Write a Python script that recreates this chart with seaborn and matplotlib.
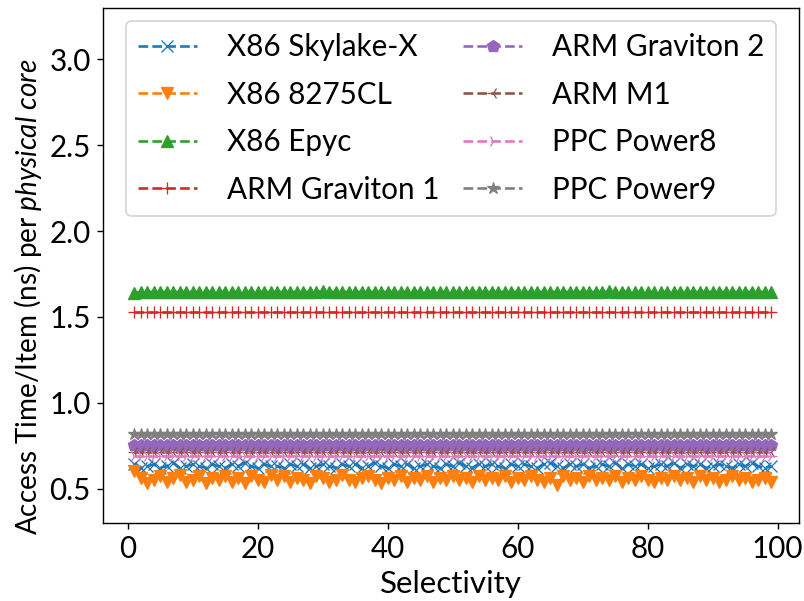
import matplotlib
matplotlib.use("Agg")
import matplotlib.pyplot as plt
import pandas as pd
import seaborn as sns

# === Data ===
selectivity = list(range(1, 100))

skylake_x = [
    0.64, 0.62, 0.63, 0.64, 0.62, 0.63, 0.65, 0.62, 0.63, 0.64, 0.63,
    0.62, 0.64, 0.63, 0.62, 0.64, 0.63, 0.65, 0.63, 0.62, 0.64, 0.63,
    0.63, 0.62, 0.64, 0.63, 0.64, 0.62, 0.63, 0.64, 0.63, 0.62, 0.64,
    0.63, 0.64, 0.62, 0.63, 0.65, 0.63, 0.62, 0.64, 0.63, 0.64, 0.62,
    0.63, 0.64, 0.63, 0.62, 0.64, 0.63, 0.65, 0.63, 0.62, 0.64, 0.63,
    0.64, 0.63, 0.62, 0.64, 0.63, 0.64, 0.63, 0.62, 0.64, 0.65, 0.63,
    0.62, 0.64, 0.63, 0.64, 0.62, 0.63, 0.64, 0.63, 0.65, 0.62, 0.64,
    0.63, 0.64, 0.62, 0.63, 0.64, 0.63, 0.65, 0.62, 0.64, 0.63, 0.64,
    0.62, 0.63, 0.64, 0.63, 0.62, 0.64, 0.63, 0.65, 0.63, 0.62, 0.63,
]
x86_8275cl = [
    0.60, 0.56, 0.53, 0.55, 0.57, 0.54, 0.56, 0.58, 0.54, 0.55, 0.57,
    0.53, 0.56, 0.55, 0.57, 0.54, 0.56, 0.53, 0.57, 0.55, 0.54, 0.58,
    0.55, 0.57, 0.54, 0.56, 0.55, 0.53, 0.57, 0.56, 0.54, 0.55, 0.58,
    0.55, 0.54, 0.56, 0.57, 0.55, 0.53, 0.56, 0.55, 0.57, 0.54, 0.56,
    0.55, 0.57, 0.54, 0.56, 0.55, 0.57, 0.55, 0.56, 0.54, 0.57, 0.55,
    0.56, 0.55, 0.57, 0.54, 0.56, 0.55, 0.57, 0.55, 0.54, 0.56, 0.52,
    0.57, 0.55, 0.56, 0.54, 0.57, 0.55, 0.56, 0.55, 0.57, 0.54, 0.56,
    0.55, 0.57, 0.55, 0.54, 0.56, 0.55, 0.57, 0.55, 0.56, 0.54, 0.57,
    0.55, 0.56, 0.54, 0.55, 0.57, 0.55, 0.56, 0.54, 0.55, 0.56, 0.54,
]
epyc = [
    1.640, 1.645, 1.645, 1.645, 1.645, 1.645, 1.645, 1.645, 1.645, 1.645, 1.645,
    1.645, 1.645, 1.645, 1.645, 1.645, 1.645, 1.645, 1.645, 1.645, 1.645, 1.645,
    1.645, 1.645, 1.645, 1.645, 1.645, 1.645, 1.645, 1.650, 1.645, 1.645, 1.645,
    1.645, 1.645, 1.645, 1.645, 1.645, 1.645, 1.645, 1.645, 1.645, 1.645, 1.645,
    1.645, 1.645, 1.645, 1.645, 1.645, 1.645, 1.645, 1.645, 1.645, 1.645, 1.645,
    1.645, 1.645, 1.645, 1.645, 1.645, 1.645, 1.645, 1.645, 1.645, 1.645, 1.645,
    1.645, 1.645, 1.645, 1.645, 1.645, 1.645, 1.645, 1.650, 1.645, 1.645, 1.645,
    1.645, 1.645, 1.645, 1.645, 1.645, 1.645, 1.645, 1.645, 1.645, 1.645, 1.645,
    1.645, 1.645, 1.645, 1.645, 1.645, 1.645, 1.645, 1.645, 1.645, 1.645, 1.645,
]
graviton1 = [
    1.525, 1.525, 1.525, 1.525, 1.525, 1.525, 1.525, 1.525, 1.525, 1.525, 1.525,
    1.525, 1.525, 1.525, 1.525, 1.525, 1.525, 1.525, 1.525, 1.525, 1.525, 1.525,
    1.525, 1.525, 1.525, 1.525, 1.525, 1.525, 1.525, 1.525, 1.525, 1.525, 1.525,
    1.525, 1.525, 1.525, 1.525, 1.525, 1.525, 1.525, 1.525, 1.525, 1.525, 1.525,
    1.525, 1.525, 1.525, 1.525, 1.525, 1.525, 1.525, 1.525, 1.525, 1.525, 1.525,
    1.525, 1.525, 1.525, 1.525, 1.525, 1.525, 1.525, 1.525, 1.525, 1.525, 1.525,
    1.525, 1.525, 1.525, 1.525, 1.525, 1.525, 1.525, 1.525, 1.525, 1.525, 1.525,
    1.525, 1.525, 1.525, 1.525, 1.525, 1.525, 1.525, 1.525, 1.525, 1.525, 1.525,
    1.525, 1.525, 1.525, 1.525, 1.525, 1.525, 1.525, 1.525, 1.525, 1.525, 1.525,
]
graviton2 = [
    0.755, 0.755, 0.755, 0.755, 0.755, 0.755, 0.755, 0.755, 0.755, 0.755, 0.755,
    0.755, 0.755, 0.755, 0.755, 0.755, 0.755, 0.755, 0.755, 0.755, 0.755, 0.755,
    0.755, 0.755, 0.755, 0.755, 0.755, 0.755, 0.755, 0.755, 0.755, 0.755, 0.755,
    0.755, 0.755, 0.755, 0.755, 0.755, 0.755, 0.755, 0.755, 0.755, 0.755, 0.755,
    0.755, 0.755, 0.755, 0.755, 0.755, 0.755, 0.755, 0.755, 0.755, 0.755, 0.755,
    0.755, 0.755, 0.755, 0.755, 0.755, 0.755, 0.755, 0.755, 0.755, 0.755, 0.755,
    0.755, 0.755, 0.755, 0.755, 0.755, 0.755, 0.755, 0.755, 0.755, 0.755, 0.755,
    0.755, 0.755, 0.755, 0.755, 0.755, 0.755, 0.755, 0.755, 0.755, 0.755, 0.755,
    0.755, 0.755, 0.755, 0.755, 0.755, 0.755, 0.755, 0.755, 0.755, 0.755, 0.755,
]
m1 = [
    0.715, 0.715, 0.715, 0.715, 0.715, 0.715, 0.715, 0.715, 0.715, 0.715, 0.715,
    0.715, 0.715, 0.715, 0.715, 0.715, 0.715, 0.715, 0.715, 0.715, 0.715, 0.715,
    0.715, 0.715, 0.715, 0.715, 0.715, 0.715, 0.715, 0.715, 0.715, 0.715, 0.715,
    0.715, 0.715, 0.715, 0.715, 0.715, 0.715, 0.715, 0.715, 0.715, 0.715, 0.715,
    0.715, 0.715, 0.715, 0.715, 0.715, 0.715, 0.715, 0.715, 0.715, 0.715, 0.715,
    0.715, 0.715, 0.715, 0.715, 0.715, 0.715, 0.715, 0.715, 0.715, 0.715, 0.715,
    0.715, 0.715, 0.715, 0.715, 0.715, 0.715, 0.715, 0.715, 0.715, 0.715, 0.715,
    0.715, 0.715, 0.715, 0.715, 0.715, 0.715, 0.715, 0.715, 0.715, 0.715, 0.715,
    0.715, 0.715, 0.715, 0.715, 0.715, 0.715, 0.715, 0.715, 0.715, 0.715, 0.715,
]
power8 = [
    0.690, 0.690, 0.690, 0.690, 0.690, 0.690, 0.690, 0.690, 0.690, 0.690, 0.690,
    0.690, 0.690, 0.690, 0.690, 0.690, 0.690, 0.690, 0.690, 0.690, 0.690, 0.690,
    0.690, 0.690, 0.690, 0.690, 0.690, 0.690, 0.690, 0.690, 0.690, 0.690, 0.690,
    0.690, 0.690, 0.690, 0.690, 0.690, 0.690, 0.690, 0.690, 0.690, 0.690, 0.690,
    0.690, 0.690, 0.690, 0.690, 0.690, 0.690, 0.690, 0.690, 0.690, 0.690, 0.690,
    0.690, 0.690, 0.690, 0.690, 0.690, 0.690, 0.690, 0.690, 0.690, 0.690, 0.690,
    0.690, 0.690, 0.690, 0.690, 0.690, 0.690, 0.690, 0.690, 0.690, 0.690, 0.690,
    0.690, 0.690, 0.690, 0.690, 0.690, 0.690, 0.690, 0.690, 0.690, 0.690, 0.690,
    0.690, 0.690, 0.690, 0.690, 0.690, 0.690, 0.690, 0.690, 0.690, 0.690, 0.690,
]
power9 = [
    0.815, 0.815, 0.815, 0.815, 0.815, 0.815, 0.815, 0.815, 0.815, 0.815, 0.815,
    0.815, 0.815, 0.815, 0.815, 0.815, 0.815, 0.815, 0.815, 0.815, 0.815, 0.815,
    0.815, 0.815, 0.815, 0.815, 0.815, 0.815, 0.815, 0.815, 0.815, 0.815, 0.815,
    0.815, 0.815, 0.815, 0.815, 0.815, 0.815, 0.815, 0.815, 0.815, 0.815, 0.815,
    0.815, 0.815, 0.815, 0.815, 0.815, 0.815, 0.815, 0.815, 0.815, 0.815, 0.815,
    0.815, 0.815, 0.815, 0.815, 0.815, 0.815, 0.815, 0.815, 0.815, 0.815, 0.815,
    0.815, 0.815, 0.815, 0.815, 0.815, 0.815, 0.815, 0.820, 0.815, 0.815, 0.815,
    0.815, 0.815, 0.815, 0.815, 0.815, 0.815, 0.815, 0.815, 0.815, 0.815, 0.815,
    0.815, 0.815, 0.815, 0.815, 0.815, 0.815, 0.815, 0.815, 0.815, 0.815, 0.815,
]

series_names = [
    "X86 Skylake-X", "X86 8275CL", "X86 Epyc", "ARM Graviton 1",
    "ARM Graviton 2", "ARM M1", "PPC Power8", "PPC Power9",
]
series_values = [skylake_x, x86_8275cl, epyc, graviton1,
                 graviton2, m1, power8, power9]
markers = ["x", "v", "^", "+", "p", "3", "4", "*"]

# long-form table for seaborn
frames = []
for name, vals in zip(series_names, series_values):
    frames.append(pd.DataFrame({"Selectivity": selectivity, "time": vals, "cpu": name}))
df = pd.concat(frames, ignore_index=True)

plt.rcParams['font.family'] = ['Lato', 'DejaVu Sans']
plt.rcParams['font.size'] = 17
plt.rcParams['mathtext.fontset'] = 'custom'
plt.rcParams['mathtext.rm'] = 'Lato'
plt.rcParams['mathtext.it'] = 'Lato:italic'

palette = sns.color_palette("tab10", len(series_names))

fig, ax = plt.subplots(figsize=(6.4, 4.785), dpi=125.625)
for i, name in enumerate(series_names):
    sub = df[df["cpu"] == name]
    sns.lineplot(data=sub, x="Selectivity", y="time", ax=ax, label=name,
                 color=palette[i], marker=markers[i], linestyle="--",
                 linewidth=1.5, markersize=7, markeredgecolor=palette[i])

ax.set_xlim(-3.8, 103.3)
ax.set_ylim(0.3, 3.3)
ax.set_yticks([0.5, 1.0, 1.5, 2.0, 2.5, 3.0])
ax.set_xticks([0, 20, 40, 60, 80, 100])
ax.set_xlabel("Selectivity", fontsize=18)
ax.set_ylabel("Access Time/Item (ns) per $\\it{physical\\ core}$", fontsize=16)
ax.yaxis.set_label_coords(-0.085, 0.44)
ax.legend(ncol=2, loc="upper center", fontsize=17, labelspacing=0.66,
          handletextpad=1.0, columnspacing=0.8, borderaxespad=0.45)

fig.subplots_adjust(left=0.128, right=0.994, bottom=0.13, top=0.987)
fig.savefig("out.png")
plt.close(fig)
print("saved out.png")
